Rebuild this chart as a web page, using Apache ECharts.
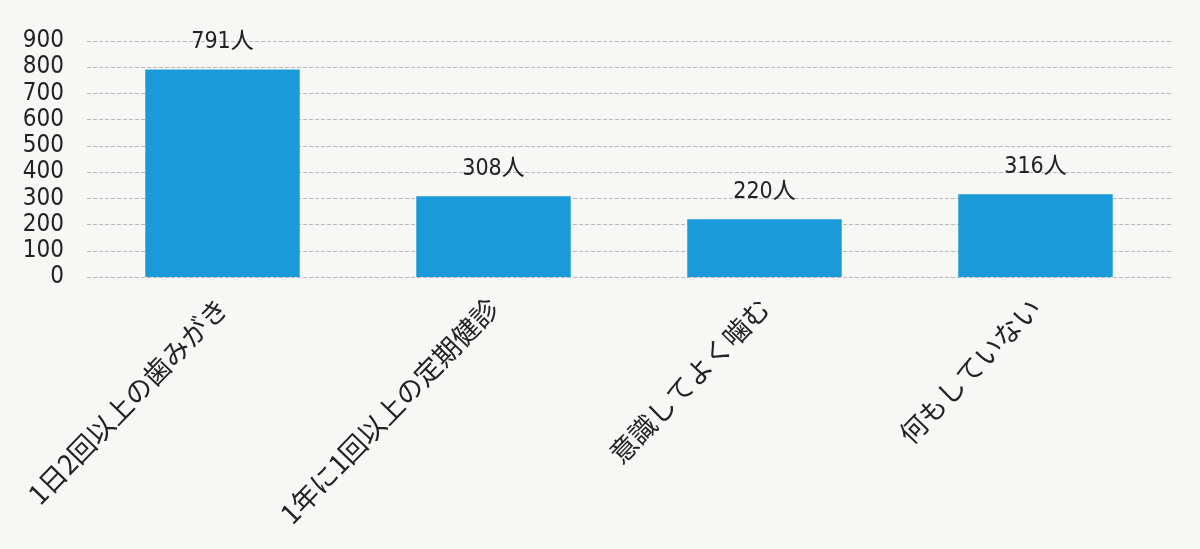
<!DOCTYPE html>
<html><head><meta charset="utf-8">
<script src="https://cdn.jsdelivr.net/npm/echarts@6/dist/echarts.min.js"></script>
<style>html,body{margin:0;padding:0;background:#f7f7f5;}#c{width:1200px;height:549px;}</style>
</head><body><div id="c"></div>
<script>
const categories = ['1日2回以上の歯みがき', '1年に1回以上の定期健診', '意識してよく噛む', '何もしていない'];
const values = [791, 308, 220, 316];
const yTicks = [0, 100, 200, 300, 400, 500, 600, 700, 800, 900];

const font = '"DejaVu Sans Condensed", "Noto Sans CJK JP", sans-serif';
const chart = echarts.init(document.getElementById('c'));
chart.setOption({
  backgroundColor: '#f7f7f5',
  animation: false,
  grid: { left: 87, right: 29, top: 41, bottom: 272 },
  xAxis: {
    type: 'category',
    data: categories,
    axisLine: { show: false },
    axisTick: { show: false },
    axisLabel: { rotate: 46, interval: 0, margin: 26, fontSize: 27, color: '#222', fontFamily: '"Noto Sans CJK JP", sans-serif' }
  },
  yAxis: {
    type: 'value',
    min: yTicks[0],
    max: yTicks[yTicks.length - 1],
    interval: 100,
    axisLine: { show: false },
    axisTick: { show: false },
    axisLabel: { margin: 23, fontSize: 24, color: '#222', fontFamily: font },
    splitLine: { lineStyle: { color: '#b8b8b8', type: 'dashed', width: 1 } }
  },
  series: [{
    type: 'bar',
    data: values,
    barWidth: '57%',
    itemStyle: { color: '#1a9ad8' },
    label: {
      show: true,
      position: 'top',
      distance: 16,
      fontSize: 23,
      color: '#222',
      fontFamily: font,
      formatter: p => p.value + '人'
    }
  }]
});
</script></body></html>
